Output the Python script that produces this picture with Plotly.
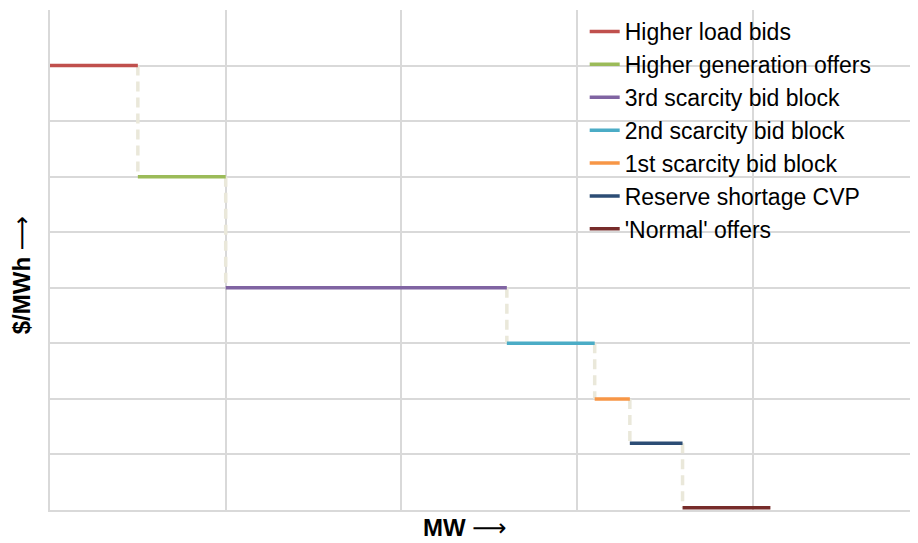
import plotly.graph_objects as go

# ---- data ----
series_names = [
    "Higher load bids",
    "Higher generation offers",
    "3rd scarcity bid block",
    "2nd scarcity bid block",
    "1st scarcity bid block",
    "Reserve shortage CVP",
    "'Normal' offers",
]
mw_start = [0, 50, 100, 260, 310, 330, 360]
mw_end = [50, 100, 260, 310, 330, 360, 410]
price_level = [8, 6, 4, 3, 2, 1.2, 0.04]

x_title = "MW"
y_title = "$/MWh"

# ---- styles ----
colors = ["#C0504D", "#9BBB59", "#8064A2", "#4BACC6", "#F79646", "#2C4D75", "#772C2A"]
connector_color = "#EAE8DA"
grid_color = "#D9D9D9"
arrow = '<span style="font-family:DejaVu Sans;font-weight:normal">⟶</span>'

fig = go.Figure()

# dashed vertical connectors between blocks
cx, cy = [], []
for i in range(len(series_names) - 1):
    cx += [mw_end[i], mw_end[i], None]
    cy += [price_level[i], price_level[i + 1], None]
fig.add_trace(go.Scatter(
    x=cx, y=cy, mode="lines", showlegend=False, hoverinfo="skip",
    line=dict(color=connector_color, width=3.5, dash="10px,6px"),
))

for name, x0, x1, p, c in zip(series_names, mw_start, mw_end, price_level, colors):
    fig.add_trace(go.Scatter(
        x=[x0, x1], y=[p, p], mode="lines", name=name,
        line=dict(color=c, width=3.5),
    ))

# the page body has an 8px default margin, so the figure is sized to fit the window
fig.update_layout(
    width=910, height=535,
    margin=dict(l=42, r=0, t=2, b=33, autoexpand=False),
    plot_bgcolor="white", paper_bgcolor="white",
    font=dict(family="Liberation Sans, Arial, sans-serif", color="black"),
    legend=dict(
        x=0.616, y=1.0, xanchor="left", yanchor="top",
        bgcolor="rgba(255,255,255,0)",
        font=dict(size=23, color="black"),
        tracegroupgap=0,
    ),
    xaxis=dict(
        range=[0, 494], dtick=100, tick0=0,
        showticklabels=False, ticks="",
        showgrid=True, gridcolor=grid_color, gridwidth=2,
        showline=True, linecolor=grid_color, linewidth=2,
        zeroline=False, automargin=False,
    ),
    yaxis=dict(
        range=[0, 9], dtick=1, tick0=0,
        showticklabels=False, ticks="",
        showgrid=True, gridcolor=grid_color, gridwidth=2,
        showline=True, linecolor=grid_color, linewidth=2,
        zeroline=False, automargin=False,
    ),
    annotations=[
        dict(text=f"<b>{x_title}</b> {arrow}", xref="paper", yref="paper",
             x=0.478, y=-0.036, xanchor="center", yanchor="middle",
             showarrow=False, font=dict(size=24)),
        dict(text=f"<b>{y_title}</b> {arrow}", xref="paper", yref="paper",
             x=-0.032, y=0.47, xanchor="center", yanchor="middle",
             textangle=-90, showarrow=False, font=dict(size=24)),
    ],
)

fig.write_html("out.html")
